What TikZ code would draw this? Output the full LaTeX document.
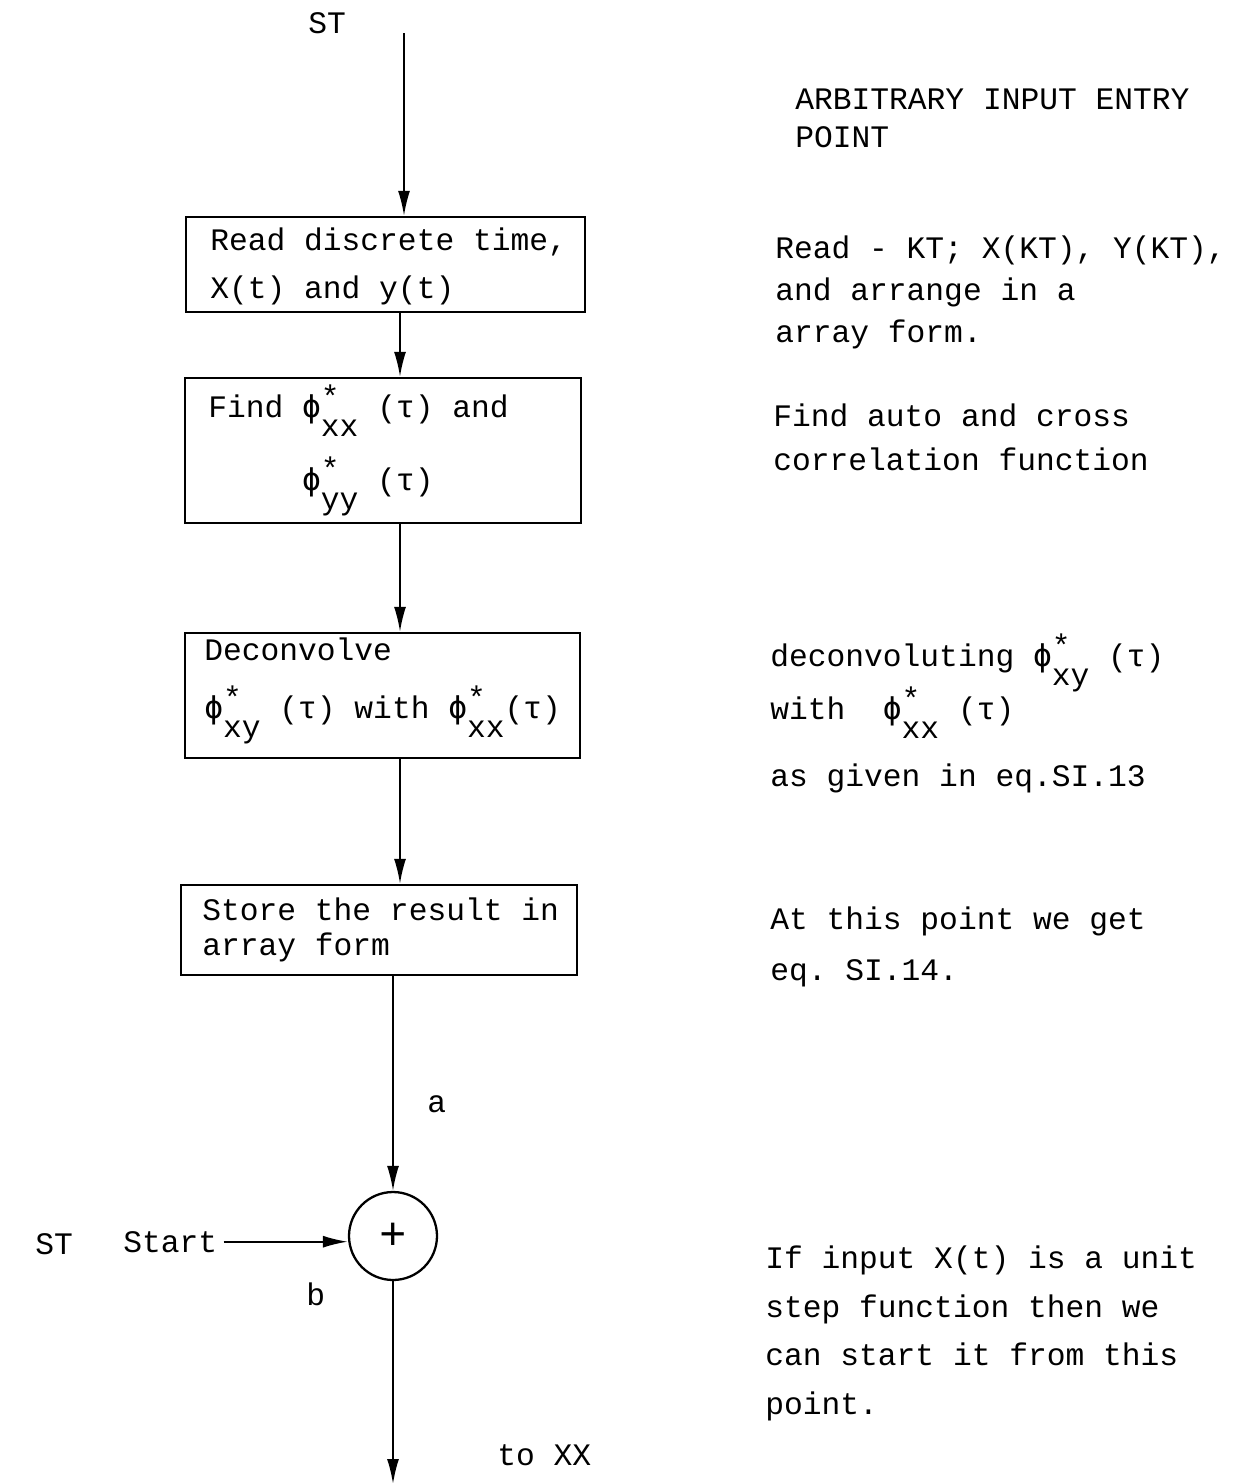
\documentclass[tikz,border=0pt]{standalone}
\usepackage{fontspec}
\setmonofont{Liberation Mono}
\newfontfamily\phifont{DejaVu Sans Mono}
\usetikzlibrary{arrows.meta}

% typed text, with its line distance
\newcommand{\typed}[1]{\ttfamily\fontsize{17.8pt}{#1}\selectfont}
% correlation symbol: phi, star above, subscript below
\newcommand{\phis}[1]{\makebox[0.6em]{\phifont ϕ}\rlap{\raisebox{0.32em}{*}}\raisebox{-0.62em}{#1}}

\begin{document}
\lineskiplimit=-100pt
\frenchspacing
\begin{tikzpicture}[x=0.02cm,y=-0.02cm,
  box/.style={draw,line width=1.3pt,inner sep=0pt},
  txt/.style={font=\typed{#1},align=left,anchor=base west,inner sep=0pt},
  txt/.default=21pt,
  flow/.style={line width=1.1pt,-{Latex[length=0.5cm,width=0.24cm]}}]
\useasboundingbox (0,0) rectangle (1237,1484);

% boxes of the chart (text placed at the baseline of its last line)
\node[box,minimum width=7.98cm,minimum height=1.9cm] (read) at (385.5,264.5) {};
\node[txt=27.2pt] (readtxt) at (210,298) {Read discrete time,\\X(t) and y(t)};

\node[box,minimum width=7.92cm,minimum height=2.9cm] (corr) at (383,450.5) {};
\node[txt=41.4pt] (corrtxt) at (208,490) {Find \phis{xx} (τ) and\\\hspace*{3em}\phis{yy} (τ)};

\node[box,minimum width=7.9cm,minimum height=2.5cm] (deconv) at (382.5,695.5) {};
\node[txt=32.9pt] (deconvtxt) at (204,718) {Deconvolve\\\phis{xy} (τ) with \phis{xx}(τ)};

\node[box,minimum width=7.92cm,minimum height=1.8cm] (store) at (379,930) {};
\node[txt=19.8pt] (storetxt) at (202,955) {Store the result in\\array form};

\node[box,circle,minimum size=1.76cm,font=\ttfamily\fontsize{26pt}{30pt}\selectfont] (sum) at (393,1236) {+};

% notes on the right
\node[txt=21.5pt] (entry) at (795,147) {ARBITRARY INPUT ENTRY\\POINT};
\node[txt=23.8pt] (readnote) at (775,342) {Read - KT; X(KT), Y(KT),\\and arrange in a\\array form.};
\node[txt=25pt] (corrnote) at (773,470) {Find auto and cross\\correlation function};
\node[txt=30pt] (deconvnote) at (770,786) {deconvoluting \phis{xy}\ (τ)\\with\ \ \phis{xx} (τ)\\[8pt]as given in eq.SI.13};
\node[txt=28.9pt] (pointnote) at (770,980) {At this point we get\\eq. SI.14.};
\node[txt=27.6pt] (stepnote) at (765,1414) {If input X(t) is a unit\\step function then we\\can start it from this\\point.};

% labels
\node[txt] (sttop) at (308,33) {ST};
\node[txt] (lbla) at (427,1112) {a};
\node[txt] (stleft) at (35,1254) {ST};
\node[txt] (start) at (123,1252) {Start};
\node[txt] (lblb) at (306,1305) {b};
\node[txt] (toxx) at (497,1465) {to XX};

% connectors
\coordinate (stin) at (404,33);
\coordinate (spine) at (400,0);
\coordinate (out) at (393,1484);
\draw[flow] (stin) -- (stin |- read.north);
\draw[flow] (read.south -| spine) -- (corr.north -| spine);
\draw[flow] (corr.south -| spine) -- (deconv.north -| spine);
\draw[flow] (deconv.south -| spine) -- (store.north -| spine);
\draw[flow] (store.south -| sum) -- (sum.north);
\draw[flow,shorten <=0.12cm] (start.east) -- (start.east -| sum.west);
\draw[flow] (sum.south) -- (out);
\end{tikzpicture}
\end{document}
